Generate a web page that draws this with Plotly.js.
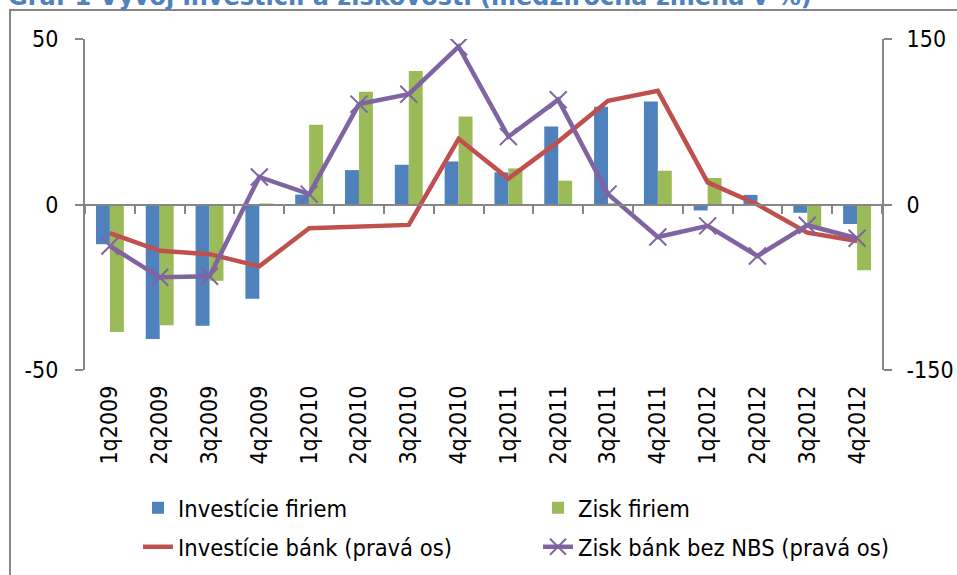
<!DOCTYPE html>
<html>
<head>
<meta charset="utf-8">
<script src="https://cdn.plot.ly/plotly-3.0.1.min.js"></script>
<style>html,body{margin:0;padding:0;background:#fff;}#chart{width:957px;height:575px;}</style>
</head>
<body>
<div id="chart"></div>
<script>
const categories = ["1q2009","2q2009","3q2009","4q2009","1q2010","2q2010","3q2010","4q2010","1q2011","2q2011","3q2011","4q2011","1q2012","2q2012","3q2012","4q2012"];
const investicieFiriem = [-12, -40.6, -36.6, -28.5, 3, 10.4, 12, 13, 9.7, 23.6, 29.5, 31.1, -1.8, 2.9, -2.5, -5.9];
const ziskFiriem = [-38.5, -36.5, -23, 0.3, 24.1, 34.1, 40.3, 26.6, 10.9, 7.2, 0.4, 10.2, 8, 0.1, -7, -19.9];
const investicieBank = [-26, -42, -45, -56, -21.5, -20.5, -18.5, 59.5, 23.5, 57, 94, 103, 20, 0, -25.5, -33];
const ziskBankBezNBS = [-37.6, -66, -65, 25, 9.4, 91, 100, 143, 61.5, 95, 9.4, -29.4, -19.4, -46.7, -18.8, -30.6];
const yLeftTicks = [-50, 0, 50];
const yLeftLabels = ["-50", "0", "50"];
const yRightTicks = [-150, 0, 150];
const yRightLabels = ["-150", "0", "150"];

const FONT = "'DejaVu Sans Condensed', 'DejaVu Sans', sans-serif";
const TFONT = "'DejaVu Sans', sans-serif";
const W = 957, H = 575;
const L = 85, R = 882, T = 39, B = 370;
const px = v => (v - L) / (R - L);
const py = v => (B - v) / (B - T);

const traces = [
  {type:'bar', name:'Investície firiem', x:categories, y:investicieFiriem, marker:{color:'#4F81BD'}, legend:'legend'},
  {type:'bar', name:'Zisk firiem', x:categories, y:ziskFiriem, marker:{color:'#9BBB59'}, legend:'legend'},
  {type:'scatter', mode:'lines', name:'Investície bánk (pravá os)', x:categories, y:investicieBank, yaxis:'y2',
   line:{color:'#C0504D', width:4.5}, legend:'legend2'},
  {type:'scatter', mode:'lines+markers', name:'Zisk bánk bez NBS (pravá os)', x:categories, y:ziskBankBezNBS, yaxis:'y2',
   line:{color:'#8064A2', width:4.5}, marker:{symbol:'x-thin', size:17, color:'#8064A2', line:{color:'#8064A2', width:2}}, legend:'legend2'},
  {type:'scatter', mode:'none', x:categories, y:categories.map(()=>null), xaxis:'x2', showlegend:false, hoverinfo:'skip'}
];

const layout = {
  width: W, height: H,
  paper_bgcolor:'#fff', plot_bgcolor:'rgba(0,0,0,0)',
  margin:{l:L, r:W-R, t:T, b:H-B, pad:0},
  font:{family:FONT, size:23, color:'#000'},
  title:{text:'Graf 1 Vývoj investícií a ziskovosti (medziročná zmena v %)', font:{family:TFONT, size:24, color:'#4F81BD', weight:'bold'},
         x:8/W, xanchor:'left', xref:'container', y:1-5/H, yanchor:'bottom', yref:'container'},
  barmode:'group', bargap:0.44, bargroupgap:0,
  showlegend:true,
  xaxis:{type:'category', categoryarray:categories, range:[-0.5, 15.5], tickangle:-90, ticks:'', showline:false, showgrid:false, zeroline:false,
         tickfont:{family:FONT, size:23}, ticklabelstandoff:10, fixedrange:true},
  xaxis2:{type:'category', categoryarray:categories, range:[-0.5, 15.5], overlaying:'x', anchor:'free', position:py(204.5), showticklabels:false,
          showline:true, linecolor:'#868686', linewidth:2, ticks:'outside', tickson:'boundaries', ticklen:8, tickwidth:2, tickcolor:'#868686', showgrid:false, zeroline:false},
  yaxis:{range:[-50,50], tickvals:yLeftTicks, ticktext:yLeftLabels, showgrid:true, gridcolor:'#868686', griddash:'dash', gridwidth:1.3, zeroline:false,
         showline:true, linecolor:'#868686', linewidth:2, ticks:'outside', ticklen:8, tickwidth:2, tickcolor:'#868686', ticklabelstandoff:12,
         tickfont:{family:FONT, size:23}},
  yaxis2:{range:[-150,150], tickvals:yRightTicks, ticktext:yRightLabels, overlaying:'y', side:'right', showgrid:false, zeroline:false,
          showline:true, linecolor:'#868686', linewidth:2, ticks:'outside', ticklen:8, tickwidth:2, tickcolor:'#868686', ticklabelstandoff:10,
          tickfont:{family:FONT, size:23}},
  legend:{orientation:'h', xref:'container', yref:'container', x:138/W, y:1-508/H, xanchor:'left', yanchor:'middle',
          entrywidth:355, entrywidthmode:'pixels', font:{family:FONT, size:23.5}, bgcolor:'rgba(0,0,0,0)'},
  legend2:{orientation:'h', xref:'container', yref:'container', x:138/W, y:1-547/H, xanchor:'left', yanchor:'middle',
          entrywidth:355, entrywidthmode:'pixels', font:{family:FONT, size:23.5}, bgcolor:'rgba(0,0,0,0)'},
  shapes:[{type:'rect', xref:'paper', yref:'paper', x0:px(10), x1:px(W+20), y0:py(H+20), y1:py(10), line:{color:'#868686', width:2}, fillcolor:'rgba(0,0,0,0)', layer:'below'}]
};

Plotly.newPlot('chart', traces, layout, {staticPlot:true, displayModeBar:false});
</script>
</body>
</html>
